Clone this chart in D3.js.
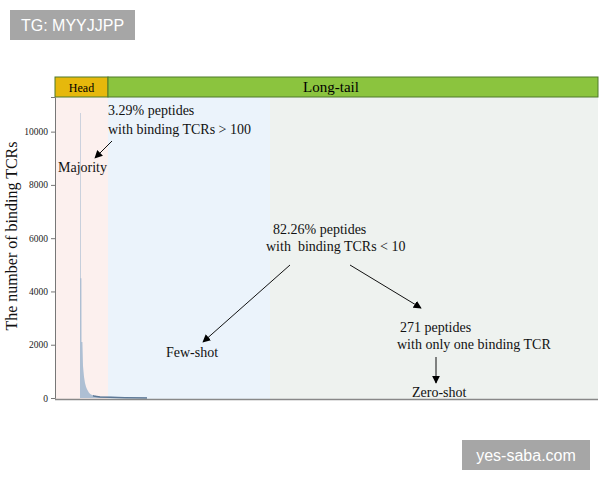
<!DOCTYPE html>
<html><head><meta charset="utf-8">
<script src="https://cdn.jsdelivr.net/npm/d3@7"></script>
<style>body{margin:0;background:#fff}svg{display:block}</style>
</head><body>
<svg id="c" width="600" height="480"></svg>
<script>
// ---- data ----
// peptide rank (arbitrary units along the x axis) and number of binding TCRs
const ranks  = [25, 25.6, 25.7, 26.4, 26.5, 27.4, 28, 29, 30, 31, 32, 33, 34, 35, 36, 38, 40, 45, 55, 70, 92];
const counts = [10700, 10700, 4500, 4500, 2100, 2100, 1200, 800, 560, 420, 330, 260, 200, 160, 130, 100, 80, 60, 45, 30, 15];
const yTicks = [0, 2000, 4000, 6000, 8000, 10000];
// region boundaries (rank units)
const regions = [
  {name: "Head",      start: 0,   end: 53},
  {name: "Few-shot",  start: 53,  end: 215},
  {name: "Zero-shot", start: 215, end: 543}
];
const bands = [
  {name: "Head",      start: 0,  end: 53},
  {name: "Long-tail", start: 53, end: 543}
];

const svg = d3.select("#c");
const m = {l: 55, r: 598, t: 97, b: 398};
const x = d3.scaleLinear().domain([0, 543]).range([m.l, m.r]);
const y = d3.scaleLinear().domain([0, 11300]).range([m.b, m.t]);

// backgrounds
const bgCol = {"Head": "#fcf0ee", "Few-shot": "#ebf3fb", "Zero-shot": "#eef2ef"};
svg.selectAll("rect.bg").data(regions).join("rect").attr("class", "bg")
  .attr("x", d => x(d.start)).attr("width", d => x(d.end) - x(d.start))
  .attr("y", m.t).attr("height", m.b + 2 - m.t)
  .attr("fill", d => bgCol[d.name]);

// header bands
const bandCol = {"Head": "#e6b80c", "Long-tail": "#8bc43e"};
svg.selectAll("rect.band").data(bands).join("rect").attr("class", "band")
  .attr("x", d => x(d.start)).attr("width", d => x(d.end) - x(d.start))
  .attr("y", 77).attr("height", 20)
  .attr("fill", d => bandCol[d.name]).attr("stroke", "#4f7a2a").attr("stroke-width", 1);
svg.selectAll("text.band").data(bands).join("text").attr("class", "band")
  .attr("x", d => d.name === "Head" ? (x(d.start) + x(d.end)) / 2 : 331)
  .attr("y", 92).attr("text-anchor", "middle")
  .attr("font-family", "Liberation Serif, Times New Roman, serif")
  .attr("font-size", d => d.name === "Head" ? 12 : 15)
  .text(d => d.name);

// distribution
const pts = ranks.map((r, i) => [r, counts[i]]);
svg.append("path").datum(pts)
  .attr("d", d3.area().x(d => x(d[0])).y0(y(0)).y1(d => y(d[1])))
  .attr("fill", "#aebfd3");
svg.append("path").datum(pts.filter(d => d[1] <= 100))
  .attr("d", d3.line().x(d => x(d[0])).y(d => y(d[1]) + 0.5))
  .attr("fill", "none").attr("stroke", "#5d7896").attr("stroke-width", 1.5);

// axes
const ya = svg.append("g").attr("transform", `translate(${m.l},0)`)
  .call(d3.axisLeft(y).tickValues(yTicks).tickSize(4).tickPadding(3).tickFormat(d3.format("d")));
ya.select(".domain").attr("stroke", "#777");
ya.selectAll(".tick line").attr("stroke", "#777");
ya.selectAll("text").attr("font-family", "Liberation Serif, Times New Roman, serif")
  .attr("font-size", 9.5).attr("fill", "#222");
svg.append("line").attr("x1", m.l).attr("x2", m.r).attr("y1", m.b + 1.5).attr("y2", m.b + 1.5)
  .attr("stroke", "#888").attr("stroke-width", 1.5);

svg.append("text").attr("transform", "translate(17,236) rotate(-90)")
  .attr("text-anchor", "middle").attr("font-family", "Liberation Serif, Times New Roman, serif")
  .attr("font-size", 16).attr("fill", "#111").text("The number of binding TCRs");

// annotations
svg.append("defs").append("marker").attr("id", "ah")
  .attr("viewBox", "0 0 10 10").attr("refX", 9).attr("refY", 5)
  .attr("markerWidth", 8).attr("markerHeight", 8).attr("markerUnits", "userSpaceOnUse")
  .attr("orient", "auto")
  .append("path").attr("d", "M0,0 L10,5 L0,10 z").attr("fill", "#000");

const serif = "Liberation Serif, Times New Roman, serif";
const texts = [
  {t: "3.29% peptides", x: 108, y: 115},
  {t: "with binding TCRs > 100", x: 108, y: 134},
  {t: "Majority", x: 58, y: 172},
  {t: "82.26% peptides", x: 273, y: 234},
  {t: "with  binding TCRs < 10", x: 266, y: 251},
  {t: "Few-shot", x: 166, y: 357},
  {t: "271 peptides", x: 400, y: 332},
  {t: "with only one binding TCR", x: 397, y: 349},
  {t: "Zero-shot", x: 412, y: 397}
];
svg.selectAll("text.ann").data(texts).join("text").attr("class", "ann")
  .attr("x", d => d.x).attr("y", d => d.y)
  .attr("font-family", serif).attr("font-size", 14).attr("fill", "#111")
  .style("white-space", "pre").attr("xml:space", "preserve")
  .text(d => d.t);

const arrows = [
  [112, 141, 95, 158],
  [290, 265, 203, 342],
  [350, 265, 421, 308],
  [436, 357, 436, 383]
];
svg.selectAll("line.arr").data(arrows).join("line").attr("class", "arr")
  .attr("x1", d => d[0]).attr("y1", d => d[1]).attr("x2", d => d[2]).attr("y2", d => d[3])
  .attr("stroke", "#111").attr("stroke-width", 1).attr("marker-end", "url(#ah)");

// watermarks
const wm = [
  {t: "TG: MYYJJPP", x: 10, y: 10, w: 125},
  {t: "yes-saba.com", x: 462, y: 440, w: 128}
];
svg.selectAll("rect.wm").data(wm).join("rect").attr("class", "wm")
  .attr("x", d => d.x).attr("y", d => d.y).attr("width", d => d.w).attr("height", 30)
  .attr("fill", "#a6a6a6");
svg.selectAll("text.wm").data(wm).join("text").attr("class", "wm")
  .attr("x", d => d.x + d.w / 2).attr("y", d => d.y + 21).attr("text-anchor", "middle")
  .attr("font-family", "Liberation Sans, Arial, sans-serif").attr("font-size", 16)
  .attr("fill", "#fff").text(d => d.t);
</script>
</body></html>
